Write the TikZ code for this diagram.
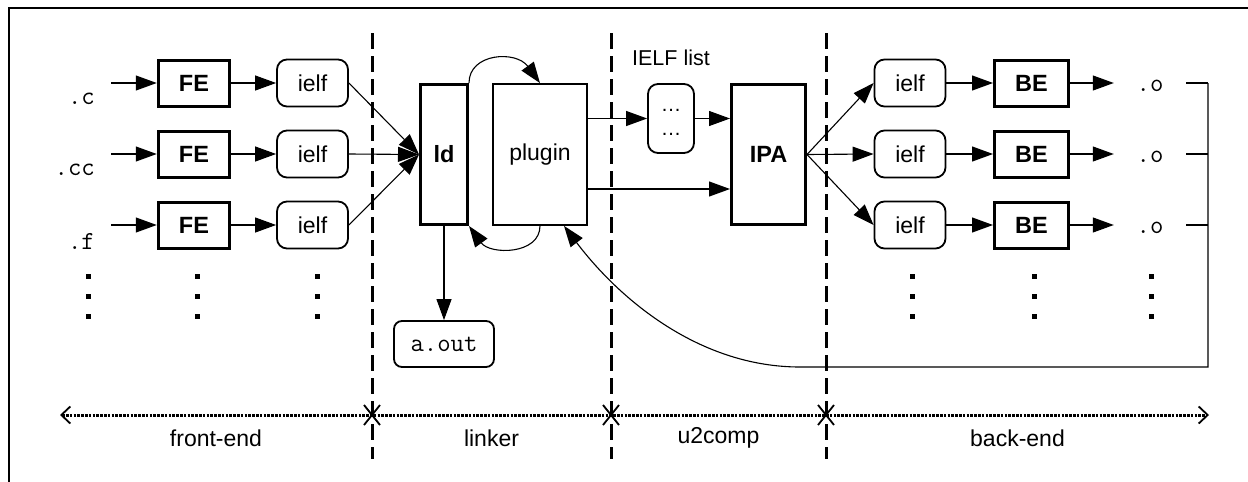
\documentclass[tikz,border=0pt]{standalone}
\usepackage{fontspec}
\setmainfont{Liberation Sans}
\usetikzlibrary{arrows.meta}

\tikzset{
  txt/.style={font=\fontsize{23}{27.6}\selectfont},
  boldtxt/.style={font=\fontsize{23.5}{28}\selectfont\bfseries},
  mono/.style={font=\fontsize{26}{30}\ttfamily, inner sep=0pt},
  stagebox/.style={draw, line width=3pt, inner sep=0pt, boldtxt},
  febox/.style={stagebox, minimum width=71.5pt, minimum height=46pt},
  bebox/.style={stagebox, minimum width=74pt, minimum height=46pt},
  tallbox/.style={stagebox, minimum height=140pt},
  ielfbox/.style={draw, line width=1.8pt, rounded corners=10pt, inner sep=0pt,
    minimum width=71pt, minimum height=47pt, txt},
  conn/.style={line width=1.1pt, -{Triangle[length=21pt,width=15pt]}},
  wire/.style={line width=1.1pt},
  divider/.style={line width=3pt, dash pattern=on 16pt off 7pt},
  axisline/.style={line width=3pt, dash pattern=on 2.6pt off 1.2pt,
    {Straight Barb[length=9pt,width=17pt,line width=1.8pt]}-{Straight Barb[length=9pt,width=17pt,line width=1.8pt]}},
  junction/.style={line width=1.8pt},
}

\newcommand{\vdotsat}[1]{%
  \foreach \yy in {276,296,316} {\fill (#1-2.5,\yy-2.5) rectangle +(5,5);}}

\begin{document}
\begin{tikzpicture}[x=1pt,y=-1pt]
\useasboundingbox (0,0) rectangle (1248,482);

% frame
\draw[line width=1.6pt] (9,482) -- (9,8) -- (1248,8);

% phase dividers
\foreach \xx in {372,611,826} {\draw[divider] (\xx,33) -- (\xx,459);}

% ---- front-end ----
\foreach \i/\yy/\ext in {1/83/.c, 2/154/.cc, 3/225/.f} {
  \coordinate (src\i) at (111,\yy);
  \node[mono, anchor=east] (lbl\i) at (95,\yy+16) {\ext};
  \node[febox] (fe\i) at (194,\yy) {FE};
  \node[ielfbox] (il\i) at (312.5,\yy) {ielf};
  \draw[conn] (src\i) -- (fe\i);
  \draw[conn] (fe\i) -- (il\i);
}

% ---- linker ----
\node[tallbox, minimum width=47pt] (ld) at (444,154.5) {ld};
\node[draw, line width=1.8pt, minimum width=94pt, minimum height=141pt, txt] (plugin) at (540,154.5) {plugin};
\node[draw, line width=1.8pt, rounded corners=8pt, minimum width=100pt, minimum height=46pt,
      font=\fontsize{26}{30}\ttfamily] (aout) at (444,344) {a.out};

\foreach \i in {1,2,3} {\draw[conn] (il\i.east) -- (ld.west);}
\draw[conn] (ld.south) -- (aout.north);
\draw[conn] (ld.north east) .. controls +(0,-30) and +(-24,-33) .. (plugin.north);
\draw[conn] (plugin.south) .. controls +(0,29) and +(21,29) .. (ld.south east);

% ---- u2comp ----
\node[txt, font=\fontsize{21.5}{25}\selectfont] (listlabel) at (671,58) {IELF list};
\node[draw, line width=1.8pt, rounded corners=10pt, minimum width=46pt, minimum height=69pt,
      inner sep=0pt, font=\fontsize{20.5}{24.6}\selectfont] (list) at (671,118.5)
      {\begin{tabular}{@{}c@{}}\dots\\\dots\end{tabular}};
\node[tallbox, minimum width=74pt] (ipa) at (768.5,154.5) {IPA};

\draw[conn] (plugin.east |- list.west) -- (list.west);
\draw[conn] (list.east) -- (list.east -| ipa.west);
\draw[conn] ([yshift=-34.5pt]plugin.east) -- ([yshift=-34.5pt]plugin.east -| ipa.west);

% ---- back-end ----
\coordinate (fbtop) at (1208,83);
\foreach \i/\yy in {1/83, 2/154, 3/225} {
  \node[ielfbox] (ir\i) at (910,\yy) {ielf};
  \node[bebox] (be\i) at (1031.5,\yy) {BE};
  \node[mono, minimum width=72pt] (obj\i) at (1150,\yy+3) {.o};
  \draw[conn] (ipa.east) -- (ir\i.west);
  \draw[conn] (ir\i) -- (be\i);
  \draw[conn] (be\i.east) -- (be\i.east -| obj\i.west);
  \draw[wire] (be\i.east -| obj\i.east) -- (be\i.east -| fbtop);
}

% feedback into the plugin
\coordinate (fbcorner) at (1208,367);
\coordinate (fbturn) at (800,367);
\draw[conn] (fbtop) -- (fbcorner) -- (fbturn)
  .. controls (700,367) and (620,300) .. ([xshift=24pt]plugin.south);

% continuation marks
\foreach \xx in {88,197,317,912,1034,1151} {\vdotsat{\xx}}

% ---- phase axis ----
\draw[axisline] (60,415) -- (1209,415);
\foreach \xx in {372,611,826} {
  \draw[junction] (\xx-8,405) -- (\xx+8,425) (\xx-8,425) -- (\xx+8,405);}
\node[txt] (ph1) at (216,438) {front-end};
\node[txt] (ph2) at (491.5,438) {linker};
\node[txt] (ph3) at (718.5,438) {u2comp};
\node[txt] (ph4) at (1017.5,438) {back-end};
\end{tikzpicture}
\end{document}
